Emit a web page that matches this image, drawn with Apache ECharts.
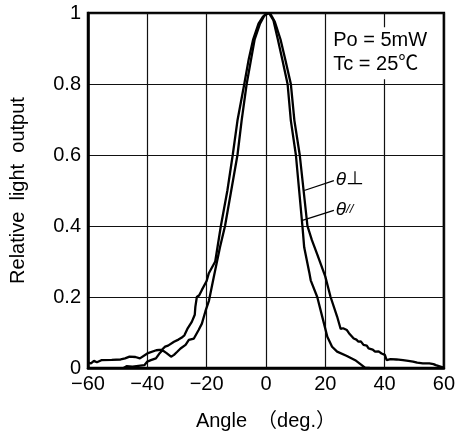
<!DOCTYPE html>
<html>
<head>
<meta charset="utf-8">
<script src="https://cdn.jsdelivr.net/npm/echarts@6/dist/echarts.min.js"></script>
<style>
html,body{margin:0;padding:0;background:#fff;}
#c{width:458px;height:439px;}
</style>
</head>
<body>
<div id="c"></div>
<script>
// ---- data ----
const xTicks = [-60, -40, -20, 0, 20, 40, 60];
const yTicks = [0, 0.2, 0.4, 0.6, 0.8, 1];

// θ⊥ (wider curve)
const thetaPerp = [
  [-60, 0.015], [-59, 0.013], [-58, 0.02], [-57, 0.016], [-55.5, 0.022], [-52, 0.023],
  [-49, 0.024], [-47.5, 0.027], [-46, 0.032], [-44, 0.031], [-42.5, 0.027], [-40, 0.041],
  [-37, 0.05], [-35, 0.052], [-34, 0.06], [-33, 0.063], [-31, 0.074], [-29.5, 0.08],
  [-28.5, 0.085], [-27.5, 0.092], [-26.5, 0.11], [-25, 0.13], [-24, 0.15], [-23.8, 0.172],
  [-23.3, 0.2], [-22.5, 0.205], [-21.6, 0.22], [-20, 0.245], [-19.3, 0.266], [-17.1, 0.3],
  [-15.2, 0.4], [-13, 0.5], [-11.2, 0.6], [-9.6, 0.697], [-7.3, 0.8], [-5.8, 0.87],
  [-4.3, 0.926], [-2.5, 0.97], [-1, 0.99], [0.5, 1.0], [1.5, 0.998], [3, 0.975],
  [4.9, 0.926], [6.5, 0.87], [8.4, 0.8], [9.6, 0.697], [11.4, 0.6], [12.7, 0.5],
  [14, 0.4], [15.5, 0.36], [17.3, 0.32], [20, 0.258], [21.8, 0.2], [24, 0.145],
  [25.2, 0.11], [26, 0.112], [27.3, 0.107], [28, 0.098], [28.5, 0.1], [29.6, 0.083],
  [30.5, 0.08], [31.2, 0.074], [32, 0.075], [32.9, 0.065], [34, 0.063], [34.6, 0.055],
  [36, 0.052], [36.8, 0.046], [38, 0.047], [39, 0.041], [40.1, 0.037], [40.7, 0.022],
  [42, 0.025], [44, 0.024], [46.2, 0.022], [48, 0.02], [49.6, 0.018], [51, 0.015],
  [52.9, 0.013], [55.1, 0.013], [56.5, 0.011], [57.3, 0.008], [59.6, 0.002], [60, 0]
];

// θ// (narrower curve)
const thetaPar = [
  [-48, 0], [-47, 0.005], [-45, 0.004], [-43, 0.006], [-41, 0.008], [-40, 0.018],
  [-38.8, 0.022], [-37.1, 0.027], [-36, 0.04], [-34.9, 0.05], [-33.5, 0.042], [-32, 0.032],
  [-31, 0.037], [-30, 0.045], [-28.8, 0.055], [-27.1, 0.065], [-26, 0.079], [-24.3, 0.083],
  [-22.7, 0.107], [-21.6, 0.125], [-20.4, 0.16], [-19.2, 0.19], [-17.5, 0.26], [-15.5, 0.34],
  [-13.8, 0.4], [-11.7, 0.5], [-9.6, 0.6], [-8.2, 0.697], [-6.5, 0.8], [-5, 0.87],
  [-3.8, 0.926], [-2, 0.97], [-0.5, 0.993], [1, 1.0], [2.5, 0.98], [4, 0.926],
  [5.5, 0.87], [7.3, 0.8], [8.4, 0.697], [10.1, 0.6], [11.2, 0.5], [12.3, 0.4],
  [12.9, 0.34], [14.6, 0.27], [15.1, 0.247], [17.3, 0.2], [19, 0.144], [20.7, 0.088],
  [22.3, 0.06], [24, 0.046], [27.3, 0.034], [30.1, 0.022], [32.3, 0.008], [33.5, 0], [35, 0]
];

// leader lines for the curve labels
const perpLeader = [[12.9, 0.5], [22.9, 0.528]];
const parLeader = [[12.3, 0.416], [22.9, 0.444]];

const conditions = ['Po = 5mW', 'Tc = 25℃'];
const xName = 'Angle　（deg.）';
const yName = 'Relative  light  output';

const FONT = '"Liberation Sans", Arial, "Noto Sans CJK JP", sans-serif';

const chart = echarts.init(document.getElementById('c'), null, {renderer: 'canvas'});

function leader(coords, rich, fmt) {
  return {
    silent: true,
    symbol: ['none', 'none'],
    lineStyle: {color: '#000', width: 1.3, type: 'solid'},
    label: {
      show: true, position: 'end', distance: 2, formatter: fmt,
      color: '#000', fontFamily: FONT, fontSize: 18, rich: rich
    },
    data: [[{coord: coords[0]}, {coord: coords[1]}]]
  };
}

const option = {
  animation: false,
  backgroundColor: '#fff',
  grid: {
    left: 88, right: 10, top: 13, bottom: 71,
    show: true, borderColor: '#000', borderWidth: 2.5, backgroundColor: 'transparent'
  },
  xAxis: {
    type: 'value', min: xTicks[0], max: xTicks[xTicks.length - 1], interval: 20,
    name: xName, nameLocation: 'middle', nameGap: 43,
    nameTextStyle: {color: '#000', fontSize: 20, fontFamily: FONT},
    axisLine: {show: true, onZero: false, lineStyle: {color: '#000', width: 2.5}},
    axisTick: {show: false},
    axisLabel: {
      color: '#000', fontSize: 20, fontFamily: FONT, margin: 6,
      formatter: v => (v < 0 ? '−' + Math.abs(v) : String(v))
    },
    splitLine: {show: true, lineStyle: {color: '#111', width: 1.2}}
  },
  yAxis: {
    type: 'value', min: yTicks[0], max: yTicks[yTicks.length - 1], interval: 0.2,
    name: yName, nameLocation: 'middle', nameGap: 60, nameRotate: 90,
    nameTextStyle: {color: '#000', fontSize: 20, fontFamily: FONT},
    axisLine: {show: true, onZero: false, lineStyle: {color: '#000', width: 2.5}},
    axisTick: {show: false},
    axisLabel: {
      color: '#000', fontSize: 20, fontFamily: FONT, margin: 7,
      formatter: v => (v === 0 ? '0' : v === 1 ? '1' : v.toFixed(1))
    },
    splitLine: {show: true, lineStyle: {color: '#111', width: 1.2}}
  },
  series: [
    {
      name: 'θ⊥', type: 'line', data: thetaPerp, showSymbol: false, symbol: 'none',
      lineStyle: {color: '#000', width: 2.3}, z: 3,
      markLine: leader(perpLeader, {i: {fontStyle: 'italic', fontSize: 19, fontFamily: FONT}},
        '{i|θ}⊥')
    },
    {
      name: 'θ//', type: 'line', data: thetaPar, showSymbol: false, symbol: 'none',
      lineStyle: {color: '#000', width: 2.3}, z: 3,
      markLine: leader(parLeader, {
        i: {fontStyle: 'italic', fontSize: 19, fontFamily: FONT},
        s: {fontStyle: 'italic', fontSize: 13, fontFamily: FONT}
      }, '{i|θ}{s|//}')
    }
  ]
};
chart.setOption(option);

// conditions box (placed in data coordinates, top-right corner)
const p = chart.convertToPixel({gridIndex: 0}, [21, 0.96]);
chart.setOption({
  graphic: [{
    type: 'group', left: p[0], top: p[1], z: 100,
    children: [
      {type: 'rect', shape: {x: 0, y: 0, width: 108, height: 52}, style: {fill: '#fff'}},
      {type: 'text', left: 5, top: 1, style: {text: conditions.join('\n'), fill: '#000',
        font: '20px ' + FONT, lineHeight: 24}}
    ]
  }]
});
</script>
</body>
</html>
